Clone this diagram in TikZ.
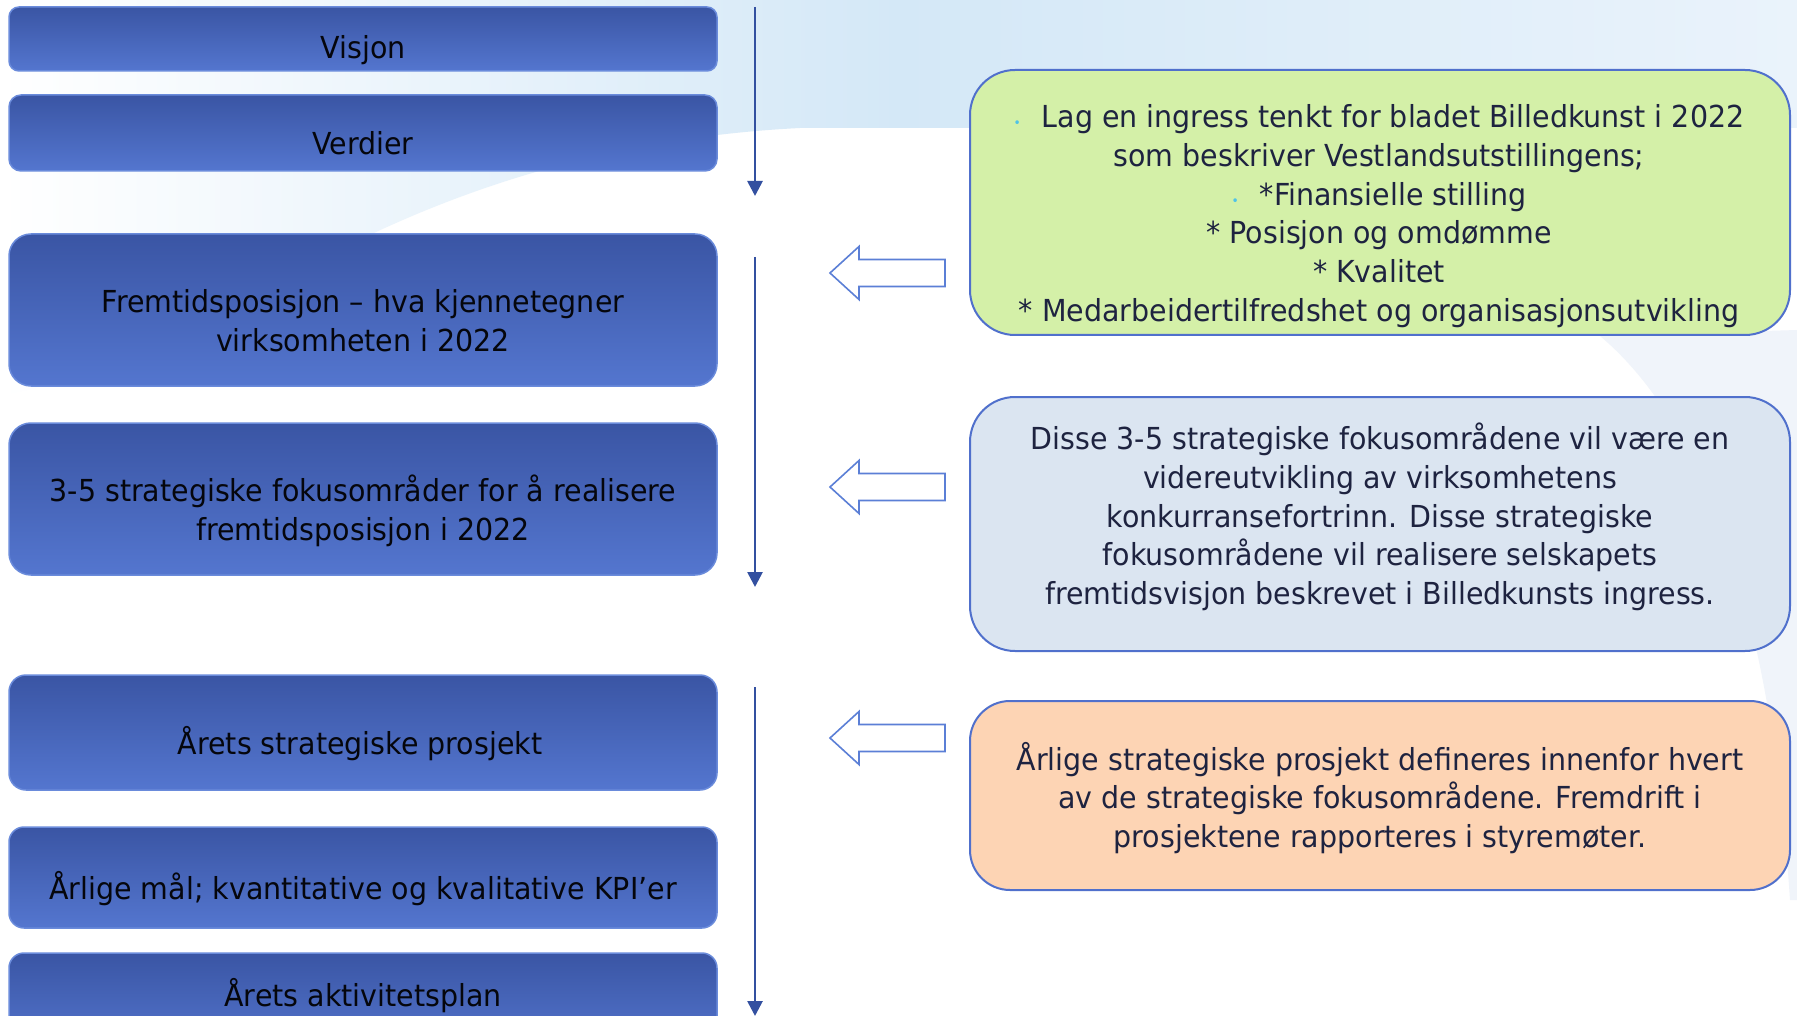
\documentclass[tikz,border=0pt]{standalone}
\usepackage{fontspec}
\setmainfont{DejaVu Sans}[FakeStretch=0.94]
\usetikzlibrary{arrows.meta}
\definecolor{boxtop}{HTML}{3A55A4}
\definecolor{boxbot}{HTML}{5476CF}
\definecolor{boxedge}{HTML}{6A8BDB}
\definecolor{varrowc}{HTML}{3350A0}
\definecolor{hollowc}{HTML}{5B7FD6}
\definecolor{rbedge}{HTML}{5070CC}
\definecolor{greenf}{HTML}{D4F0A8}
\definecolor{bluef}{HTML}{DBE5F1}
\definecolor{orangef}{HTML}{FDD4B4}
\definecolor{rtext}{HTML}{1E2340}
\definecolor{ltext}{HTML}{05060C}
\definecolor{dotc}{HTML}{4FC3E8}
\definecolor{sky}{HTML}{D4E8F7}
\definecolor{skyr}{HTML}{EAF3FB}
\definecolor{faint}{HTML}{F0F4FA}
\newcommand{\txt}{\fontsize{30.3}{38.7}\selectfont}
\newcommand{\bdot}{\textcolor{dotc}{\fontsize{13}{13}\selectfont\textbullet}}
\begin{document}
\begin{tikzpicture}[x=1pt,y=-1pt,
  lbox/.style={rectangle,minimum width=708pt,inner sep=0pt,top color=boxtop,bottom color=boxbot,draw=boxedge,line width=1.5pt},
  ltxt/.style={font=\txt,text=ltext,align=center,inner sep=0pt},
  rbox/.style={rectangle,minimum width=820pt,inner sep=0pt,draw=rbedge,line width=2pt,rounded corners=45pt},
  rtxt/.style={font=\txt,text=rtext,align=center,inner sep=0pt},
  varrow/.style={draw=varrowc,line width=2.7pt,-{Triangle[length=15pt,width=15pt]}},
  hollow/.style={draw=hollowc,line width=1.6pt,fill=white,line join=miter}]
\useasboundingbox (0,0) rectangle (1797,1016);
% background
\fill[white] (0,0) rectangle (1797,1016);
\shade[left color=white,right color=skyr,middle color=sky]
  (0,0) -- (1797,0) -- (1797,128) -- (800,128)
  .. controls (560,140) and (380,220) .. (250,300)
  .. controls (150,360) and (60,385) .. (0,395) -- cycle;
\fill[faint] (1600,336) .. controls (1700,420) and (1770,600) .. (1790,900)
  -- (1797,900) -- (1797,330) -- cycle;
% left boxes
\node[lbox,minimum height=64pt,rounded corners=10pt] (b1) at (363,39) {};
\node[ltxt] (t1) at (363,50) {Visjon};
\node[lbox,minimum height=76pt,rounded corners=12pt] (b2) at (363,133) {};
\node[ltxt] (t2) at (363,143) {Verdier};
\node[lbox,minimum height=152pt,rounded corners=22pt] (b3) at (363,310) {};
\node[ltxt] (t3) at (363,321) {Fremtidsposisjon – hva kjennetegner\\virksomheten i 2022};
\node[lbox,minimum height=152pt,rounded corners=22pt] (b4) at (363,499) {};
\node[ltxt] (t4) at (363,511) {3-5 strategiske fokusområder for å realisere\\fremtidsposisjon i 2022};
\node[lbox,minimum height=115pt,rounded corners=17pt] (b5) at (363,732.5) {};
\node[ltxt] (t5) at (360,744) {Årets strategiske prosjekt};
\node[lbox,minimum height=101pt,rounded corners=15pt] (b6) at (363,877.5) {};
\node[ltxt] (t6) at (363,889) {Årlige mål; kvantitative og kvalitative KPI’er};
\node[lbox,minimum height=100pt,rounded corners=15pt] (b7) at (363,1003) {};
\node[ltxt] (t7) at (363,996) {Årets aktivitetsplan};
% vertical arrows
\coordinate (a1s) at (755,7);   \coordinate (a1e) at (755,196);
\coordinate (a2s) at (755,257); \coordinate (a2e) at (755,587);
\coordinate (a3s) at (755,687); \coordinate (a3e) at (755,1016);
\draw[varrow] (a1s) -- (a1e);
\draw[varrow] (a2s) -- (a2e);
\draw[varrow] (a3s) -- (a3e);
% hollow arrows
\coordinate (h1) at (830,273);
\coordinate (h2) at (830,487);
\coordinate (h3) at (830,738);
\foreach \h in {h1,h2,h3}{
  \draw[hollow] (\h) -- ++(29,-26.5) -- ++(0,13) -- ++(86,0) -- ++(0,27) -- ++(-86,0) -- ++(0,13) -- cycle;
}
% right boxes
\node[rbox,fill=greenf,minimum height=265pt] (g) at (1380,202.5) {};
\node[rtxt] (gt) at (1379,216) {\bdot\hspace{21pt}Lag en ingress tenkt for bladet Billedkunst i 2022\\som beskriver Vestlandsutstillingens;\\\bdot\hspace{21pt}*Finansielle stilling\\* Posisjon og omdømme\\* Kvalitet\\* Medarbeidertilfredshet og organisasjonsutvikling};
\node[rbox,fill=bluef,minimum height=254pt] (bl) at (1380,524) {};
\node[rtxt] (blt) at (1380,517) {Disse 3-5 strategiske fokusområdene vil være en\\videreutvikling av virksomhetens\\konkurransefortrinn. Disse strategiske\\fokusområdene vil realisere selskapets\\fremtidsvisjon beskrevet i Billedkunsts ingress.};
\node[rbox,fill=orangef,minimum height=189pt,rounded corners=40pt] (o) at (1380,795.5) {};
\node[rtxt] (ot) at (1380,798) {Årlige strategiske prosjekt defineres innenfor hvert\\av de strategiske fokusområdene. Fremdrift i\\prosjektene rapporteres i styremøter.};
\end{tikzpicture}
\end{document}
